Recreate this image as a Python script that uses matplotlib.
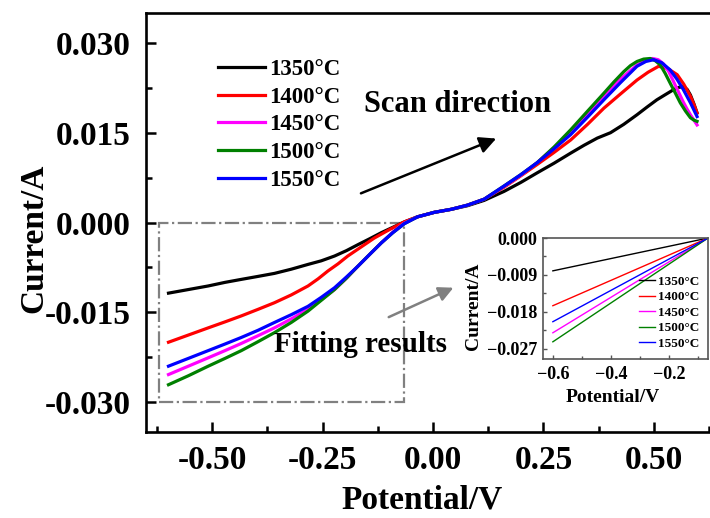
import numpy as np
import matplotlib
matplotlib.use('Agg')
import matplotlib.pyplot as plt
from matplotlib.patches import Rectangle
from matplotlib.ticker import FuncFormatter, MultipleLocator

plt.rcParams['font.family'] = 'Liberation Serif'
plt.rcParams['font.weight'] = 'bold'

labels = ['1350\u00b0C', '1400\u00b0C', '1450\u00b0C', '1500\u00b0C', '1550\u00b0C']
colors = ['black', '#ff0000', '#ff00ff', '#008000', '#0000ff']

# LSV curves (potential / V, current / A)
x_black = [-0.599, -0.554, -0.509, -0.471, -0.434, -0.396, -0.359, -0.321, -0.283, -0.253,
           -0.223, -0.196, -0.170, -0.143, -0.117, -0.091, -0.065, -0.035, 0.003, 0.041,
           0.078, 0.116, 0.161, 0.199, 0.236, 0.274, 0.312, 0.342, 0.372, 0.402,
           0.432, 0.462, 0.485, 0.507, 0.527, 0.545, 0.558, 0.568, 0.576, 0.583,
           0.591, 0.598]
y_black = [-0.0118, -0.0112, -0.0106, -0.0100, -0.0095, -0.0090, -0.0085, -0.0078, -0.0070, -0.0064,
           -0.0056, -0.0047, -0.0037, -0.0027, -0.0017, -0.0008, 0.0001, 0.00095, 0.0017, 0.0022,
           0.0028, 0.0037, 0.0052, 0.0067, 0.0083, 0.0099, 0.0116, 0.0129, 0.0141, 0.0150,
           0.0164, 0.0180, 0.0193, 0.0205, 0.0214, 0.0222, 0.0226, 0.0227, 0.0222, 0.0213,
           0.0198, 0.0183]

x_red = [-0.599, -0.554, -0.509, -0.471, -0.434, -0.396, -0.359, -0.321, -0.283, -0.260,
         -0.238, -0.215, -0.193, -0.163, -0.133, -0.099, -0.065, -0.035, 0.003, 0.041,
         0.078, 0.116, 0.161, 0.199, 0.236, 0.274, 0.312, 0.350, 0.387, 0.425,
         0.462, 0.487, 0.511, 0.532, 0.553, 0.568, 0.583, 0.591, 0.598]
y_red = [-0.0200, -0.0188, -0.0176, -0.0166, -0.0156, -0.0145, -0.0134, -0.0121, -0.0106, -0.0094,
         -0.0081, -0.0069, -0.0056, -0.0041, -0.0026, -0.0012, 0.0001, 0.00095, 0.0017, 0.0022,
         0.0029, 0.0039, 0.0059, 0.0078, 0.0097, 0.0117, 0.0138, 0.0164, 0.0191, 0.0215,
         0.0238, 0.0251, 0.0261, 0.0257, 0.0247, 0.0231, 0.0211, 0.0197, 0.0183]

x_mag = [-0.599, -0.554, -0.509, -0.471, -0.434, -0.396, -0.359, -0.321, -0.283, -0.253,
         -0.223, -0.196, -0.170, -0.143, -0.117, -0.091, -0.065, -0.035, 0.003, 0.041,
         0.078, 0.116, 0.161, 0.199, 0.236, 0.274, 0.312, 0.350, 0.387, 0.425,
         0.462, 0.480, 0.497, 0.510, 0.522, 0.534, 0.545, 0.556, 0.567, 0.575,
         0.583, 0.591, 0.598]
y_mag = [-0.0254, -0.0240, -0.0226, -0.0214, -0.0202, -0.0189, -0.0176, -0.0161, -0.0145, -0.0129,
         -0.0112, -0.0093, -0.0073, -0.0053, -0.0034, -0.0016, -0.0001, 0.00095, 0.0017, 0.0022,
         0.0029, 0.0039, 0.0060, 0.0079, 0.0100, 0.0125, 0.0152, 0.0182, 0.0212, 0.0240,
         0.0263, 0.0270, 0.0274, 0.0272, 0.0265, 0.0252, 0.0235, 0.0218, 0.0201, 0.0190,
         0.0180, 0.0171, 0.0163]

x_green = [-0.599, -0.554, -0.509, -0.471, -0.434, -0.396, -0.359, -0.321, -0.283, -0.253,
           -0.223, -0.196, -0.170, -0.143, -0.117, -0.091, -0.065, -0.035, 0.003, 0.041,
           0.078, 0.116, 0.161, 0.199, 0.236, 0.274, 0.312, 0.350, 0.387, 0.410,
           0.432, 0.447, 0.462, 0.477, 0.492, 0.504, 0.515, 0.526, 0.537, 0.549,
           0.560, 0.572, 0.583, 0.591, 0.598]
y_green = [-0.0271, -0.0256, -0.0240, -0.0227, -0.0214, -0.0199, -0.0184, -0.0167, -0.0148, -0.0130,
           -0.0112, -0.0093, -0.0073, -0.0053, -0.0034, -0.0017, -0.0002, 0.00095, 0.0017, 0.0022,
           0.0029, 0.0039, 0.0061, 0.0080, 0.0100, 0.0126, 0.0155, 0.0186, 0.0216, 0.0235,
           0.0252, 0.0262, 0.0269, 0.0273, 0.0274, 0.0270, 0.0263, 0.0249, 0.0233, 0.0216,
           0.0200, 0.0186, 0.0175, 0.0171, 0.0169]

x_blue = [-0.599, -0.554, -0.509, -0.471, -0.434, -0.396, -0.359, -0.321, -0.283, -0.253,
          -0.223, -0.196, -0.170, -0.143, -0.117, -0.091, -0.065, -0.035, 0.003, 0.041,
          0.078, 0.116, 0.161, 0.199, 0.236, 0.274, 0.312, 0.350, 0.387, 0.425,
          0.462, 0.482, 0.500, 0.518, 0.537, 0.552, 0.567, 0.583, 0.598]
y_blue = [-0.0240, -0.0227, -0.0214, -0.0203, -0.0192, -0.0180, -0.0167, -0.0154, -0.0140, -0.0125,
          -0.0109, -0.0091, -0.0073, -0.0053, -0.0034, -0.0017, -0.0002, 0.00095, 0.0017, 0.0022,
          0.0029, 0.0039, 0.0061, 0.0080, 0.0100, 0.0123, 0.0147, 0.0176, 0.0205, 0.0234,
          0.0261, 0.0269, 0.0272, 0.0267, 0.0255, 0.0240, 0.0222, 0.0200, 0.0177]

curves = [(x_black, y_black), (x_red, y_red), (x_mag, y_mag),
          (x_green, y_green), (x_blue, y_blue)]

# linear fits shown in the inset (start and end points)
fit_x = [-0.6, -0.065]
fit_start = [-0.0080, -0.0165, -0.0231, -0.0253, -0.0204]


def hyphen_fmt(fmt):
    return FuncFormatter(lambda v, p: (fmt % v).replace('\u2212', '-'))


def minus_fmt(fmt):
    return FuncFormatter(lambda v, p: (fmt % v).replace('-', '\u2212'))


fig = plt.figure(figsize=(7.1, 5.18), dpi=100)
ax = fig.add_axes([0.2056, 0.166, 0.8085, 0.8089])

for (xs, ys), c, lab in zip(curves, colors, labels):
    ax.plot(xs, ys, color=c, lw=2.3, label=lab, solid_joinstyle='round')

ax.set_xlim(-0.65, 0.65)
ax.set_ylim(-0.035, 0.035)
ax.xaxis.set_major_locator(MultipleLocator(0.25))
ax.xaxis.set_minor_locator(MultipleLocator(0.125))
ax.yaxis.set_major_locator(MultipleLocator(0.015))
ax.yaxis.set_minor_locator(MultipleLocator(0.0075))
ax.xaxis.set_major_formatter(hyphen_fmt('%.2f'))
ax.yaxis.set_major_formatter(hyphen_fmt('%.3f'))
ax.tick_params(which='both', direction='in', width=1.8, labelsize=24)
ax.tick_params(which='major', length=7)
ax.tick_params(which='minor', length=4)
ax.tick_params(axis='x', pad=9)
ax.tick_params(axis='y', pad=11)
for s in ax.spines.values():
    s.set_linewidth(1.9)

ax.set_xlabel('Potential/V', fontsize=24, fontweight='bold')
ax.set_ylabel('Current/A', fontsize=24, fontweight='bold')
ax.xaxis.set_label_coords(0.481, -0.126)
ax.yaxis.set_label_coords(-0.169, 0.463)

leg = ax.legend(loc='upper left', bbox_to_anchor=(0.109, 0.912), frameon=False,
                fontsize=16.5, handlelength=2.05, handletextpad=0.2,
                labelspacing=0.29, borderaxespad=0)

ax.add_patch(Rectangle((-0.62, -0.030), 0.555, 0.030, fill=False,
                       edgecolor='#808080', lw=1.6, ls='-.'))

ax.annotate('', xy=(0.149, 0.0142), xytext=(-0.169, 0.0047),
            arrowprops=dict(arrowstyle='-|>', color='black', lw=1.8, mutation_scale=25))
ax.text(-0.156, 0.0197, 'Scan direction', fontsize=22, fontweight='bold',
        ha='left', va='center')

ax.annotate('', xy=(0.052, -0.0107), xytext=(-0.106, -0.016),
            arrowprops=dict(arrowstyle='-|>', color='#808080', lw=1.8, mutation_scale=22))
ax.text(-0.359, -0.0203, 'Fitting results', fontsize=21, fontweight='bold',
        ha='left', va='center')

# inset with the linear fits
axi = fig.add_axes([0.7648, 0.3069, 0.2324, 0.2336])
for y0, c, lab in zip(fit_start, colors, labels):
    axi.plot(fit_x, [y0, 0.0], color=c, lw=1.0, label=lab)
axi.set_xlim(-0.634, -0.065)
axi.set_ylim(-0.0295, 0.0)
axi.xaxis.set_major_locator(MultipleLocator(0.2))
axi.xaxis.set_minor_locator(MultipleLocator(0.1))
axi.yaxis.set_major_locator(MultipleLocator(0.009))
axi.yaxis.set_minor_locator(MultipleLocator(0.0045))
axi.xaxis.set_major_formatter(minus_fmt('%.1f'))
axi.yaxis.set_major_formatter(minus_fmt('%.3f'))
axi.tick_params(which='both', direction='in', width=1.0, labelsize=13, color='#555555')
axi.tick_params(which='major', length=3)
axi.tick_params(which='minor', length=2)
axi.tick_params(axis='x', pad=5)
axi.tick_params(axis='y', pad=4)
for s in axi.spines.values():
    s.set_linewidth(1.2)
    s.set_color('#555555')
axi.set_xlabel('Potential/V', fontsize=14, fontweight='bold')
axi.set_ylabel('Current/A', fontsize=14, fontweight='bold')
axi.xaxis.set_label_coords(0.424, -0.25)
axi.yaxis.set_label_coords(-0.37, 0.44)
axi.legend(loc='lower right', frameon=False, fontsize=9.5, handlelength=1.2,
           handletextpad=0.2, labelspacing=0.25, borderaxespad=0.3)

fig.savefig('out.png', dpi=100)
